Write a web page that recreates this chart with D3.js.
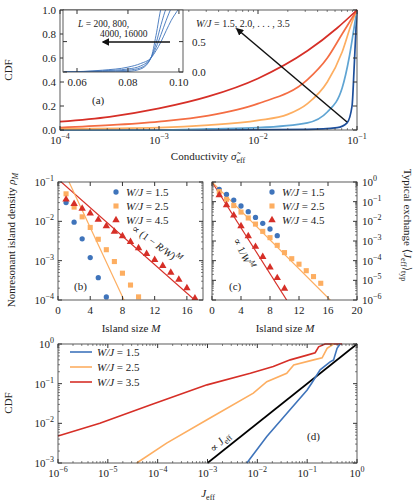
<!DOCTYPE html>
<html><head><meta charset="utf-8">
<script src="https://cdn.jsdelivr.net/npm/d3@7"></script>
<style>body{margin:0;background:#fff}text{font-family:"Liberation Serif","DejaVu Serif",serif;fill:#222}</style>
</head><body><svg id="c" width="416" height="502"></svg>
<script>
// panel (a): CDF of conductivity, log10 sigma vs CDF
var aLogX = {
  w15: [-4, -2.5, -1.5, -1.2, -1.1, -1.05, -1.03, -1.01, -1],
  w20: [-4, -3, -2.5, -2, -1.5, -1.3, -1.15, -1.08, -1.03, -1],
  w25: [-4, -3, -2.5, -2, -1.7, -1.5, -1.3, -1.15, -1.05, -1],
  w30: [-4, -3.5, -3, -2.5, -2, -1.5, -1.3, -1.15, -1],
  w35: [-4, -3.5, -3, -2.5, -2, -1.5, -1.2, -1]
};
var aCdf = {
  w15: [0, 0, 0.005, 0.02, 0.06, 0.2, 0.5, 0.85, 1],
  w20: [0, 0, 0.01, 0.02, 0.06, 0.15, 0.35, 0.6, 0.85, 1],
  w25: [0.01, 0.02, 0.04, 0.08, 0.13, 0.22, 0.4, 0.65, 0.9, 1],
  w30: [0.02, 0.04, 0.07, 0.12, 0.22, 0.42, 0.6, 0.8, 1],
  w35: [0.07, 0.11, 0.18, 0.28, 0.43, 0.66, 0.85, 1]
};
var aKeys = ["w15", "w20", "w25", "w30", "w35"];
var aColors = ["#1d4f9c", "#5fa4d3", "#fdae61", "#f46d43", "#d62f27"];
// inset: CDF vs sigma for system sizes L
var insetX = [0.055, 0.07, 0.08, 0.085, 0.089, 0.091, 0.093, 0.095, 0.097, 0.1, 0.102];
var insetCdf = [
  [0.0, 0.03, 0.08, 0.14, 0.23, 0.35, 0.5, 0.68, 0.85, 1.05, 1.2],
  [0.0, 0.02, 0.05, 0.1, 0.23, 0.4, 0.62, 0.85, 1.05, 1.2, 1.3],
  [0.0, 0.01, 0.03, 0.07, 0.23, 0.47, 0.78, 1.05, 1.2, 1.3, 1.3],
  [0.0, 0.0, 0.01, 0.05, 0.23, 0.6, 1.05, 1.2, 1.3, 1.3, 1.3]
];
// panel (b): island density vs M
var bM15 = [1, 2, 3, 4, 5, 6], bRho15 = [0.03, 0.0095, 0.0036, 0.0012, 0.00037, 0.00012];
var bM25 = [1, 2, 3, 4, 5, 6, 7, 8, 9, 10], bRho25 = [0.05, 0.023, 0.013, 0.007, 0.0035, 0.0019, 0.00095, 0.00048, 0.00024, 0.00012];
var bM45 = [1, 2, 3, 4, 5, 6, 7, 8, 9, 10, 11, 12, 13, 14, 15, 16, 17];
var bRho45 = [0.036, 0.028, 0.021, 0.016, 0.011, 0.0076, 0.0055, 0.0042, 0.003, 0.0021, 0.0015, 0.00105, 0.00074, 0.0005, 0.00033, 0.0002, 0.00011];
var bFitRed = [[0, 0.118], [18, 0.000065]], bFitOrange = [[0, 0.4], [9, 0.000044]];
// panel (c): typical exchange vs M (log10)
var cM15 = [1, 2, 3, 4, 5, 6, 7, 8, 9], cLog15 = [-0.37, -0.63, -0.92, -1.22, -1.51, -1.8, -2.1, -2.39, -2.73];
var cM25 = [1, 2, 3, 4, 5, 6, 7, 8, 9, 10, 11, 12, 13, 14, 15];
var cLog25 = [-0.49, -0.88, -1.2, -1.53, -1.83, -2.14, -2.51, -2.83, -3.22, -3.59, -3.9, -4.18, -4.51, -4.81, -5.15];
var cM45 = [1, 2, 3, 4, 5, 6, 7, 8, 9, 10], cLog45 = [-0.66, -1.17, -1.69, -2.24, -2.75, -3.29, -3.8, -4.34, -4.88, -5.42];
var cFitRed = [[0, 0], [10.3, -6]], cFitOrange = [[0, 0], [16.3, -6]];
// panel (d): CDF of J_eff (log10 J, log10 CDF)
var dBlue = [[-2.21, -3], [-1.81, -2.33], [-1.41, -1.75], [-1.0, -1.16], [-0.91, -0.99], [-0.74, -0.65], [-0.54, -0.45], [-0.47, -0.4], [-0.4, -0.11], [-0.34, 0]];
var dOrange = [[-4.42, -3], [-3.82, -2.5], [-3.01, -1.91], [-2.08, -1.24], [-1.81, -0.95], [-1.41, -0.74], [-1.27, -0.53], [-0.87, -0.4], [-0.7, -0.35], [-0.6, -0.11], [-0.47, 0]];
var dRed = [[-6, -2.32], [-5.16, -2.0], [-4.15, -1.54], [-3.01, -1.03], [-2.14, -0.74], [-1.68, -0.57], [-1.34, -0.4], [-1.0, -0.28], [-0.84, -0.22], [-0.77, -0.07], [-0.64, 0], [-0.3, 0]];
var dFit = [[-3, -3], [0, 0]];
var blue = "#3f74bb", orange = "#fdae61", red = "#d62f27";

var svg = d3.select("#c");

function sup(sel, base, exp) {
  sel.append("tspan").text(base);
  sel.append("tspan").attr("dy", -5).attr("font-size", 8).text(exp);
}
function powLabel(e) { return e === 0 ? "0" : "\u2212" + Math.abs(e); }

// frame + inward ticks on all sides
function frame(g, x, y) {
  var r = x.range(), s = y.range();
  g.append("rect").attr("x", r[0]).attr("y", Math.min(s[0], s[1]))
    .attr("width", r[1] - r[0]).attr("height", Math.abs(s[1] - s[0]))
    .attr("fill", "none").attr("stroke", "#333").attr("stroke-width", 0.8);
}
function xTicks(g, x, y, majors, minors, label) {
  var y0 = d3.max(y.range()), y1 = d3.min(y.range());
  majors.forEach(function(v) {
    var px = x(v);
    g.append("line").attr("x1", px).attr("x2", px).attr("y1", y0).attr("y2", y0 - 4).attr("stroke", "#333");
    g.append("line").attr("x1", px).attr("x2", px).attr("y1", y1).attr("y2", y1 + 4).attr("stroke", "#333");
    if (label) label(g.append("text").attr("x", px).attr("y", y0 + 14).attr("text-anchor", "middle").attr("font-size", 11), v);
  });
  (minors || []).forEach(function(v) {
    var px = x(v);
    g.append("line").attr("x1", px).attr("x2", px).attr("y1", y0).attr("y2", y0 - 2).attr("stroke", "#333").attr("stroke-width", 0.6);
    g.append("line").attr("x1", px).attr("x2", px).attr("y1", y1).attr("y2", y1 + 2).attr("stroke", "#333").attr("stroke-width", 0.6);
  });
}
function yTicks(g, x, y, majors, minors, label, right) {
  var x0 = x.range()[0], x1 = x.range()[1];
  majors.forEach(function(v) {
    var py = y(v);
    g.append("line").attr("x1", x0).attr("x2", x0 + 4).attr("y1", py).attr("y2", py).attr("stroke", "#333");
    g.append("line").attr("x1", x1).attr("x2", x1 - 4).attr("y1", py).attr("y2", py).attr("stroke", "#333");
    if (label) label(g.append("text").attr("x", right ? x1 + 5 : x0 - 4).attr("y", py + 4)
      .attr("text-anchor", right ? "start" : "end").attr("font-size", 11), v);
  });
  (minors || []).forEach(function(v) {
    var py = y(v);
    g.append("line").attr("x1", x0).attr("x2", x0 + 2).attr("y1", py).attr("y2", py).attr("stroke", "#333").attr("stroke-width", 0.6);
    g.append("line").attr("x1", x1).attr("x2", x1 - 2).attr("y1", py).attr("y2", py).attr("stroke", "#333").attr("stroke-width", 0.6);
  });
}
function logMinors(lo, hi) {
  var out = [];
  for (var e = lo; e < hi; e++) for (var k = 2; k < 10; k++) out.push(e + Math.log10(k));
  return out;
}
function lbl(g, x, y, txt, size) {
  return g.append("text").attr("x", x).attr("y", y).attr("font-size", size || 11).text(txt);
}

// ---------- panel (a) ----------
var ax = d3.scaleLinear().domain([-4, -1]).range([60, 357]);
var ay = d3.scaleLinear().domain([0, 1]).range([130, 10]);
var ga = svg.append("g");
ga.append("defs").append("marker").attr("id", "ah").attr("viewBox", "0 0 10 10").attr("refX", 8).attr("refY", 5)
  .attr("markerWidth", 5).attr("markerHeight", 5).attr("orient", "auto")
  .append("path").attr("d", "M0,0L10,5L0,10z").attr("fill", "#111");
var lineA = d3.line().x(function(d) { return ax(d[0]); }).y(function(d) { return ay(d[1]); }).curve(d3.curveMonotoneX);
aKeys.forEach(function(k, i) {
  ga.append("path").datum(d3.zip(aLogX[k], aCdf[k])).attr("d", lineA)
    .attr("fill", "none").attr("stroke", aColors[i]).attr("stroke-width", 1.7);
});
frame(ga, ax, ay);
xTicks(ga, ax, ay, [-4, -3, -2, -1], logMinors(-4, -1), function(t, v) { sup(t, "10", powLabel(v)); });
yTicks(ga, ax, ay, [0, 0.2, 0.4, 0.6, 0.8, 1], null, function(t, v) { t.text(v.toFixed(1)); });
ga.append("line").attr("x1", 347).attr("y1", 122).attr("x2", 237).attr("y2", 29)
  .attr("stroke", "#111").attr("stroke-width", 1.5).attr("marker-end", "url(#ah)");
var tw = lbl(ga, 196, 27, "", 10);
tw.append("tspan").attr("font-style", "italic").text("W/J");
tw.append("tspan").text(" = 1.5, 2.0, . . . , 3.5");
lbl(ga, 92, 104, "(a)", 11);
ga.append("text").attr("x", 12).attr("y", 70).attr("font-size", 11).attr("text-anchor", "middle")
  .attr("transform", "rotate(-90,12,70)").text("CDF");
var tc = ga.append("text").attr("x", 208).attr("y", 160).attr("font-size", 11).attr("text-anchor", "middle");
tc.append("tspan").text("Conductivity ");
tc.append("tspan").attr("font-style", "italic").text("\u03C3\u0303");
tc.append("tspan").attr("font-size", 8).attr("dy", 3).text("eff");

// inset
var ix = d3.scaleLinear().domain([0.0545, 0.1016]).range([63, 183]);
var iy = d3.scaleLinear().domain([0, 1.02]).range([72, 10]);
var gi = svg.append("g");
gi.append("rect").attr("x", 63).attr("y", 10).attr("width", 120).attr("height", 62).attr("fill", "#fff");
gi.append("clipPath").attr("id", "ic").append("rect").attr("x", 63).attr("y", 10).attr("width", 120).attr("height", 62);
var lineI = d3.line().x(function(d) { return ix(d[0]); }).y(function(d) { return iy(d[1]); }).curve(d3.curveMonotoneX);
insetCdf.forEach(function(c) {
  gi.append("path").datum(d3.zip(insetX, c)).attr("d", lineI).attr("clip-path", "url(#ic)")
    .attr("fill", "none").attr("stroke", "#3f74bb").attr("stroke-width", 0.9);
});
frame(gi, ix, iy);
xTicks(gi, ix, iy, [0.06, 0.08, 0.1], null, function(t, v) { t.text(v.toFixed(2)); });
yTicks(gi, ix, iy, [0, 0.5], null, function(t, v) { t.text(v.toFixed(1)).attr("x", 192); }, true);
gi.append("line").attr("x1", 170).attr("y1", 42).attr("x2", 103).attr("y2", 42)
  .attr("stroke", "#111").attr("stroke-width", 1.5).attr("marker-end", "url(#ah)");
var tl = lbl(gi, 78, 27, "", 9.5);
tl.append("tspan").attr("font-style", "italic").text("L");
tl.append("tspan").text(" = 200, 800,");
lbl(gi, 100, 37, "4000, 16000", 9.5);

// ---------- panel (b) ----------
var bx = d3.scaleLinear().domain([0, 18]).range([58, 203]);
var by = d3.scaleLog().domain([1e-4, 1e-1]).range([300, 182]);
var gb = svg.append("g");
gb.append("clipPath").attr("id", "bc").append("rect").attr("x", 58).attr("y", 182).attr("width", 145).attr("height", 118);
var gbc = gb.append("g").attr("clip-path", "url(#bc)");
var lineB = d3.line().x(function(d) { return bx(d[0]); }).y(function(d) { return by(d[1]); });
gbc.append("path").datum(bFitRed).attr("d", lineB).attr("stroke", red).attr("stroke-width", 1.2).attr("fill", "none");
gbc.append("path").datum(bFitOrange).attr("d", lineB).attr("stroke", orange).attr("stroke-width", 1.2).attr("fill", "none");
var sym = {
  c: d3.symbol().type(d3.symbolCircle).size(22),
  s: d3.symbol().type(d3.symbolSquare).size(26),
  t: d3.symbol().type(d3.symbolTriangle).size(24)
};
function pts(g, xs, ys, xsc, ysc, s, col) {
  g.selectAll(null).data(d3.zip(xs, ys)).enter().append("path").attr("d", s)
    .attr("transform", function(d) { return "translate(" + xsc(d[0]) + "," + ysc(d[1]) + ")"; }).attr("fill", col);
}
pts(gbc, bM15, bRho15, bx, by, sym.c, blue);
pts(gbc, bM25, bRho25, bx, by, sym.s, orange);
pts(gbc, bM45, bRho45, bx, by, sym.t, red);
frame(gb, bx, by);
var decB = [1e-4, 1e-3, 1e-2, 1e-1];
var minB = logMinors(-4, -1).map(function(v) { return Math.pow(10, v); });
xTicks(gb, bx, by, [0, 4, 8, 12, 16], null, function(t, v) { t.text(v); });
yTicks(gb, bx, by, decB, minB, function(t, v) { sup(t, "10", powLabel(Math.round(Math.log10(v)))); });
var tb = gb.append("text").attr("font-size", 10.5).attr("transform", "translate(131,230) rotate(36)");
tb.text("\u221D (1 \u2212 ");
tb.append("tspan").attr("font-style", "italic").text("R/W");
tb.append("tspan").text(")");
tb.append("tspan").attr("font-style", "italic").attr("font-size", 8).attr("dy", -5).text("M");
lbl(gb, 74, 290, "(b)", 11);
function legendPts(g, x, y0, items) {
  items.forEach(function(it, i) {
    var y = y0 + i * 14;
    g.append("path").attr("d", it[0]).attr("transform", "translate(" + x + "," + y + ")").attr("fill", it[1]);
    var t = g.append("text").attr("x", x + 10).attr("y", y + 4).attr("font-size", 11);
    t.append("tspan").attr("font-style", "italic").text("W/J");
    t.append("tspan").text(" = " + it[2]);
  });
}
legendPts(gb, 116, 192, [[sym.c, blue, "1.5"], [sym.s, orange, "2.5"], [sym.t, red, "4.5"]]);
var tn = gb.append("text").attr("font-size", 11).attr("text-anchor", "middle").attr("transform", "translate(15,240) rotate(-90)");
tn.text("Nonresonant island density ");
tn.append("tspan").attr("font-style", "italic").text("\u03C1");
tn.append("tspan").attr("font-style", "italic").attr("font-size", 8).attr("dy", 3).text("M");
var tix = gb.append("text").attr("x", 131).attr("y", 332).attr("font-size", 11).attr("text-anchor", "middle");
tix.text("Island size ");
tix.append("tspan").attr("font-style", "italic").text("M");

// ---------- panel (c) ----------
var cx = d3.scaleLinear().domain([0, 20]).range([212, 357]);
var cy = d3.scaleLinear().domain([-6, 0]).range([300, 182]);
var gc = svg.append("g");
gc.append("clipPath").attr("id", "cc").append("rect").attr("x", 212).attr("y", 182).attr("width", 145).attr("height", 118);
var gcc = gc.append("g").attr("clip-path", "url(#cc)");
var lineC = d3.line().x(function(d) { return cx(d[0]); }).y(function(d) { return cy(d[1]); });
gcc.append("path").datum(cFitRed).attr("d", lineC).attr("stroke", red).attr("stroke-width", 1.2).attr("fill", "none");
gcc.append("path").datum(cFitOrange).attr("d", lineC).attr("stroke", orange).attr("stroke-width", 1.2).attr("fill", "none");
pts(gcc, cM15, cLog15, cx, cy, sym.c, blue);
pts(gcc, cM25, cLog25, cx, cy, sym.s, orange);
pts(gcc, cM45, cLog45, cx, cy, sym.t, red);
frame(gc, cx, cy);
xTicks(gc, cx, cy, [0, 4, 8, 12, 16, 20], null, function(t, v) { t.text(v); });
yTicks(gc, cx, cy, [-6, -5, -4, -3, -2, -1, 0], logMinors(-6, 0), function(t, v) { sup(t, "10", powLabel(v)); }, true);
var tcw = gc.append("text").attr("font-size", 10.5).attr("transform", "translate(233,240) rotate(64)");
tcw.text("\u221D 1/");
tcw.append("tspan").attr("font-style", "italic").text("W");
tcw.append("tspan").attr("font-style", "italic").attr("font-size", 8).attr("dy", -5).text("M");
lbl(gc, 229, 290, "(c)", 11);
legendPts(gc, 272, 192, [[sym.c, blue, "1.5"], [sym.s, orange, "2.5"], [sym.t, red, "4.5"]]);
var tix2 = gc.append("text").attr("x", 285).attr("y", 332).attr("font-size", 11).attr("text-anchor", "middle");
tix2.text("Island size ");
tix2.append("tspan").attr("font-style", "italic").text("M");
var tt = gc.append("text").attr("font-size", 11).attr("text-anchor", "middle").attr("transform", "translate(404,225) rotate(90)");
tt.text("Typical exchange \u27E8");
tt.append("tspan").attr("font-style", "italic").text("J");
tt.append("tspan").attr("font-size", 8).attr("dy", 3).text("eff");
tt.append("tspan").attr("dy", -3).text("\u27E9");
tt.append("tspan").attr("font-size", 8).attr("dy", 3).text("typ");

// ---------- panel (d) ----------
var dx = d3.scaleLinear().domain([-6, 0]).range([58, 357]);
var dy = d3.scaleLinear().domain([-3, 0]).range([463, 344]);
var gd = svg.append("g");
var lineD = d3.line().x(function(d) { return dx(d[0]); }).y(function(d) { return dy(d[1]); });
[[dFit, "#000"], [dRed, red], [dOrange, orange], [dBlue, blue]].forEach(function(s) {
  gd.append("path").datum(s[0]).attr("d", lineD).attr("fill", "none").attr("stroke", s[1]).attr("stroke-width", 1.6);
});
frame(gd, dx, dy);
xTicks(gd, dx, dy, [-6, -5, -4, -3, -2, -1, 0], logMinors(-6, 0), function(t, v) { sup(t, "10", powLabel(v)); });
yTicks(gd, dx, dy, [-3, -2, -1, 0], logMinors(-3, 0), function(t, v) { sup(t, "10", powLabel(v)); });
[[blue, "1.5"], [orange, "2.5"], [red, "3.5"]].forEach(function(it, i) {
  var y = 352 + i * 15;
  gd.append("line").attr("x1", 70).attr("x2", 92).attr("y1", y).attr("y2", y).attr("stroke", it[0]).attr("stroke-width", 1.6);
  var t = gd.append("text").attr("x", 97).attr("y", y + 4).attr("font-size", 11);
  t.append("tspan").attr("font-style", "italic").text("W/J");
  t.append("tspan").text(" = " + it[1]);
});
var tj = gd.append("text").attr("font-size", 11).attr("transform", "translate(214,453) rotate(-45)");
tj.text("\u221D ");
tj.append("tspan").attr("font-style", "italic").text("J");
tj.append("tspan").attr("font-size", 8).attr("dy", 3).text("eff");
lbl(gd, 307, 440, "(d)", 11);
gd.append("text").attr("font-size", 11).attr("text-anchor", "middle").attr("transform", "translate(12,403) rotate(-90)").text("CDF");
var tjx = gd.append("text").attr("x", 208).attr("y", 497).attr("font-size", 11).attr("text-anchor", "middle");
tjx.append("tspan").attr("font-style", "italic").text("J");
tjx.append("tspan").attr("font-size", 8).attr("dy", 3).text("eff");
</script></body></html>
